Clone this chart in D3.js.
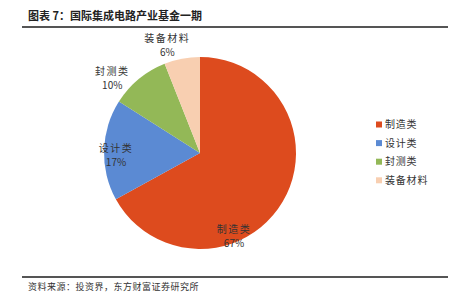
<!DOCTYPE html>
<html><head><meta charset="utf-8">
<script src="https://cdn.jsdelivr.net/npm/d3@7"></script>
<style>body{margin:0;background:#fff;} svg{display:block;font-family:"Noto Sans CJK SC","Noto Sans",sans-serif;}</style>
</head><body>
<script>
const categories = ["制造类","设计类","封测类","装备材料"];
const values = [67,17,10,6];
const colors = ["#DD4B1E","#5B8AD3","#93B857","#F8CFB1"];
const title = "图表 7：国际集成电路产业基金一期";
const source = "资料来源：投资界，东方财富证券研究所";

const W=465,H=308;
const svg=d3.select("body").append("svg").attr("width",W).attr("height",H);
svg.append("text").attr("x",28).attr("y",20).attr("font-size",11).attr("font-weight","bold").attr("fill","#222").text(title);
svg.append("line").attr("x1",22).attr("x2",448).attr("y1",27).attr("y2",27).attr("stroke","#555").attr("stroke-width",2);
svg.append("line").attr("x1",22).attr("x2",448).attr("y1",277).attr("y2",277).attr("stroke","#555").attr("stroke-width",2);
svg.append("text").attr("x",28).attr("y",290).attr("font-size",9).attr("fill","#333").attr("letter-spacing",0.5).text(source);

const cx=200,cy=153,r=96;
const pie=d3.pie().sort(null).value(d=>d)(values);
const arc=d3.arc().innerRadius(0).outerRadius(r);
const g=svg.append("g").attr("transform",`translate(${cx},${cy})`);
g.selectAll("path").data(pie).join("path").attr("d",arc).attr("fill",(d,i)=>colors[i]);

// label placement: angle offset (deg) from slice middle, radial factor
const labelOff=[37,-3,-10,-6];
const labelR=[0.93,0.875,1.2,1.18];
const lab=svg.append("g").attr("font-size",10).attr("fill","#333").attr("text-anchor","middle");
pie.forEach((d,i)=>{
  const a=(d.startAngle+d.endAngle)/2 + labelOff[i]*Math.PI/180;
  const rr=r*labelR[i];
  const x=cx+rr*Math.sin(a), y=cy-rr*Math.cos(a);
  lab.append("text").attr("x",x).attr("y",y-3).attr("letter-spacing",1.5).text(categories[i]);
  lab.append("text").attr("x",x).attr("y",y+11).text(values[i]+"%");
});

const leg=svg.append("g").attr("font-size",10).attr("fill","#333");
categories.forEach((c,i)=>{
  const y=124.5+i*18.6;
  leg.append("rect").attr("x",376).attr("y",y-3).attr("width",6).attr("height",6).attr("fill",colors[i]);
  leg.append("text").attr("x",385).attr("y",y+3.5).attr("letter-spacing",0.8).text(c);
});
</script>
</body></html>
